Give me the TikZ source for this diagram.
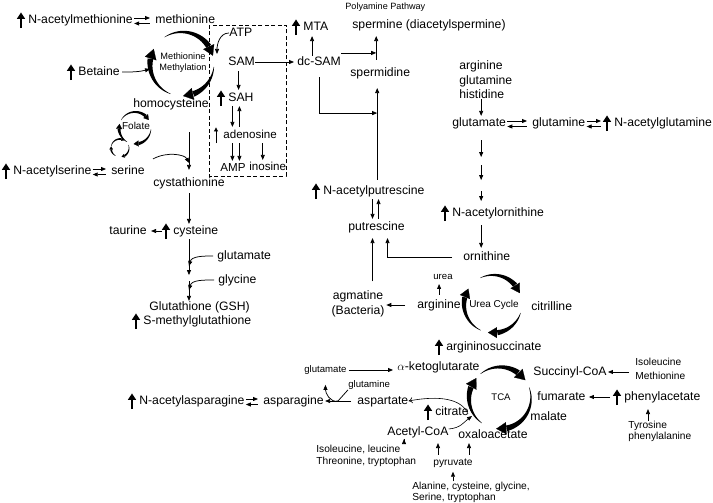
\documentclass[tikz,border=0pt]{standalone}
\usepackage{fontspec}
\setmainfont{Liberation Sans}
\usetikzlibrary{arrows.meta,calc}

\newcommand{\cycarrow}[6][9]{%
  \pgfmathsetmacro{\cycend}{#6+60*#1/#4}%
  \pgfmathsetmacro{\cychw}{0.27*#1}%
  \pgfmathsetmacro{\cycw}{1.2*#1}%
  \fill plot[domain=0:1,samples=25]
    ({#2+(#4+0.15+\cychw*\x)*cos(#5+\x*(\cycend-(#5)))},{#3+(#4+0.15+\cychw*\x)*sin(#5+\x*(\cycend-(#5)))})
    -- plot[domain=0:1,samples=25]
    ({#2+(#4-0.15-\cychw*(1-\x))*cos(\cycend+\x*((#5)-\cycend))},{#3+(#4-0.15-\cychw*(1-\x))*sin(\cycend+\x*((#5)-\cycend))})
    -- cycle;
  \draw[line width=0.2pt,-{Triangle[length=#1pt,width=\cycw pt]}]
    ($(#2,#3)+(\cycend+1:#4)$) -- ($(#2,#3)+(#6:#4)$);}

\begin{document}
\begin{tikzpicture}[x=1pt,y=1pt,line width=0.75pt,
    >={Triangle[length=5pt,width=4pt]},
    every node/.style={inner sep=0pt,anchor=west},
    met/.style={text height=8.8pt,text depth=2.6pt,font=\fontsize{12.2}{14.5}\selectfont},
    sm/.style={font=\fontsize{9.6}{11.5}\selectfont},
    lst/.style={align=left},
    upreg/.style={line width=2.3pt,-{Triangle[length=6.5pt,width=8pt]}},
    eq/.style={shorten <=1pt,shorten >=5pt}]
  \useasboundingbox (0,0) rectangle (713,503);
  % methionine cycle
  \node[met] (nacmet) at (28,483) {N-acetylmethionine};
  \node[met] (met) at (155,483) {methionine};
  \node[met] (atp) at (229,470) {ATP};
  \node[met] (sam) at (228,441) {SAM};
  \node[met] (sah) at (228,405) {SAH};
  \node[met,font=\fontsize{11.6}{14}\selectfont] (ado) at (223,368) {adenosine};
  \node[met,font=\fontsize{11.6}{14}\selectfont] (amp) at (220,335) {AMP};
  \node[met,font=\fontsize{11.6}{14}\selectfont] (ino) at (249,336) {inosine};
  \node[met] (bet) at (78,431) {Betaine};
  \node[met] (hcy) at (133,399) {homocysteine};
  \node[met] (nacser) at (13,332) {N-acetylserine};
  \node[met] (ser) at (111,332) {serine};
  \node[met] (cysta) at (153,320) {cystathionine};
  \node[met] (tau) at (109,272) {taurine};
  \node[met] (cys) at (173,272) {cysteine};
  \node[met] (glua) at (217,247) {glutamate};
  \node[met] (gly) at (218,223) {glycine};
  \node[met] (gsh) at (149,196) {Glutathione (GSH)};
  \node[met] (smg) at (143,182) {S-methylglutathione};
  \node[anchor=center,align=center,font=\fontsize{9.2}{11}\selectfont] (metlbl) at (183,440.5) {Methionine\\Methylation};
  \node[anchor=center,font=\fontsize{10}{12}\selectfont] (fol) at (136,377) {Folate};
  % polyamines
  \node[met] (mta) at (303,476) {MTA};
  \node[met] (dcsam) at (297,441) {dc-SAM};
  \node[font=\fontsize{9.1}{11}\selectfont] (poly) at (345,496) {Polyamine Pathway};
  \node[met] (spm) at (352,478) {spermine (diacetylspermine)};
  \node[met] (spd) at (350,430) {spermidine};
  \node[met] (nacput) at (323,312) {N-acetylputrescine};
  \node[met] (put) at (348,276) {putrescine};
  \node[anchor=center,align=center,font=\fontsize{12.2}{15}\selectfont] (agm) at (358,199) {agmatine\\(Bacteria)};
  \node[met] (arg) at (417,198) {arginine};
  \node[sm,anchor=center] (urea) at (443,226) {urea};
  \node[met] (orn) at (463,246) {ornithine};
  \node[met] (cit) at (531,196) {citrilline};
  \node[met] (asuc) at (446,156) {argininosuccinate};
  \node[anchor=center,font=\fontsize{10}{12}\selectfont] (ucyc) at (494,198) {Urea Cycle};
  \node[lst,font=\fontsize{12.2}{14.5}\selectfont] (aas) at (459,423) {arginine\\glutamine\\histidine};
  \node[met] (glub) at (452,380) {glutamate};
  \node[met] (glnb) at (532,380) {glutamine};
  \node[met] (nacgln) at (614,380) {N-acetylglutamine};
  \node[met] (nacorn) at (452,290) {N-acetylornithine};
  % TCA
  \node[sm] (gluc) at (304,133) {glutamate};
  \node[met] (akg) at (397,136) {$\alpha$-ketoglutarate};
  \node[sm] (glnc) at (348,118) {glutamine};
  \node[met] (asp) at (357,102) {aspartate};
  \node[met] (asn) at (263,102) {asparagine};
  \node[met] (nacasn) at (139,102) {N-acetylasparagine};
  \node[met] (citr) at (435,91) {citrate};
  \node[met] (accoa) at (387,71) {Acetyl-CoA};
  \node[met] (oaa) at (458,68) {oxaloacetate};
  \node[met] (mal) at (530,86) {malate};
  \node[met] (fum) at (537,106) {fumarate};
  \node[met] (succ) at (533,131) {Succinyl-CoA};
  \node[lst,font=\fontsize{10.2}{14}\selectfont] (ilemet) at (635,134) {Isoleucine\\Methionine};
  \node[met] (phac) at (624,106) {phenylacetate};
  \node[lst,font=\fontsize{10.2}{11}\selectfont] (tyr) at (628,71.5) {Tyrosine\\phenylalanine};
  \node[lst,font=\fontsize{10.2}{12}\selectfont] (ileleu) at (316,47) {Isoleucine, leucine\\Threonine, tryptophan};
  \node[anchor=center,font=\fontsize{10.2}{12}\selectfont] (pyr) at (453,40) {pyruvate};
  \node[lst,font=\fontsize{10.2}{11}\selectfont] (alacys) at (412,11) {Alanine, cysteine, glycine,\\Serine, tryptophan};
  \node[anchor=center,font=\fontsize{9.6}{12}\selectfont] (tca) at (501,106) {TCA};

  \foreach \n in {nacmet,sah,bet,nacser,cys,smg,mta,nacput,asuc,nacgln,nacorn,nacasn,citr,phac}
    \draw[upreg] ([xshift=-7pt,yshift=-2pt]\n.south west) -- ([xshift=-7pt,yshift=1.5pt]\n.north west);
  \draw[-{Triangle[length=4pt,width=4pt]},line width=0.8pt] ([xshift=-7pt,yshift=-2pt]ado.south west) -- ([xshift=-7pt,yshift=1.5pt]ado.north west);
  \foreach \a/\b in {nacmet/met,nacser/ser,glub/glnb,nacasn/asn}{
    \draw[->,eq] ([yshift=2pt]\a.east) -- ([yshift=2pt]\b.west);
    \draw[<-,eq] ([yshift=-3.5pt]\a.east) -- ([yshift=-3.5pt]\b.west);}
  \draw[->,eq] ([yshift=2pt]glnb.east) -- ([xshift=-8pt,yshift=2pt]nacgln.west);
  \draw[<-,eq] ([yshift=-3.5pt]glnb.east) -- ([xshift=-8pt,yshift=-3.5pt]nacgln.west);

  \cycarrow[10]{182}{439}{32}{123}{15}
  \cycarrow[10]{182}{439}{32}{-5}{-88}
  \cycarrow[10]{182}{439}{32}{249}{152}
  \cycarrow[5]{135}{375}{16}{150}{30}
  \cycarrow[5]{135}{375}{16}{-5}{-95}
  \cycarrow[5]{135}{375}{16}{240}{165}
  \cycarrow[3]{120}{355}{9}{170}{60}
  \cycarrow[3]{120}{355}{9}{20}{-80}
  \cycarrow[3]{120}{355}{9}{-120}{-190}
  \cycarrow[9]{493}{199}{29}{116}{22}
  \cycarrow[9]{493}{199}{29}{-18}{-100}
  \cycarrow[9]{493}{199}{29}{245}{148}
  \cycarrow[10]{500}{105}{31}{129}{35}
  \cycarrow[10]{500}{105}{31}{20}{-97}
  \cycarrow[10]{500}{105}{31}{234}{140}

  \draw[dash pattern=on 4pt off 2.5pt,line width=0.6pt] (209,478) rectangle (286,327);
  \coordinate (samin) at ([xshift=-11pt,yshift=8pt]sam.west);
  \draw[->] (atp.west) to[out=180,in=90] (samin);
  \draw[->,shorten >=3pt] (sam.east) -- (dcsam.west);
  \draw[->,shorten <=3pt,shorten >=2pt] ([xshift=-3pt]sam.south) -- ([xshift=-3pt]sam.south |- sah.north);
  \draw[->,shorten <=2pt,shorten >=2pt] ([xshift=-8.5pt]sah.south) -- ([xshift=-8.5pt]sah.south |- ado.north);
  \draw[<-,shorten <=2pt,shorten >=2pt] ([xshift=-1.5pt]sah.south) -- ([xshift=-1.5pt]sah.south |- ado.north);
  \draw[->,shorten <=2pt,shorten >=1pt] ([xshift=-8.5pt]sah.south |- ado.south) -- ([xshift=-8.5pt]sah.south |- amp.north);
  \draw[<-,shorten <=1pt,shorten >=2pt] ([xshift=-1.5pt]sah.south |- amp.north) -- ([xshift=-1.5pt]sah.south |- ado.south);
  \draw[->,shorten <=2pt,shorten >=1pt] ([xshift=-5pt]ino.north |- ado.south) -- ([xshift=-5pt]ino.north);
  \coordinate (metin) at (150,434);
  \draw[->,shorten <=2pt] (bet.east) to[out=0,in=195] (metin);
  \draw[->,shorten <=22pt,shorten >=7pt] (cysta.north |- hcy.south) -- (cysta.north);
  \coordinate (serin) at ([yshift=14pt]cysta.north);
  \draw[->] ([shift={(8pt,6pt)}]ser.north east) .. controls +(15,8) and +(-4,8) .. (serin);
  \draw[->,shorten <=4pt,shorten >=1pt] (cysta.south) -- (cysta.south |- cys.north);
  \draw[->,shorten >=4pt] ([xshift=-11pt]cys.west) -- (tau.east);
  \coordinate (gja) at ([yshift=-38pt]cysta.south |- cys.south);
  \coordinate (gjb) at ([yshift=-6pt]gja);
  \draw[->,shorten <=2pt] (cysta.south |- cys.south) -- (gja);
  \draw[->] (gjb) -- (cysta.south |- gsh.north);
  \draw[->] ([xshift=-4pt]glua.west) to[out=180,in=75] ([yshift=9pt]gja);
  \draw[->] ([xshift=-4pt]gly.west) to[out=180,in=75] ([yshift=-9pt]gjb);

  \draw[->,shorten >=3pt] ([xshift=-7pt]dcsam.north) -- ([xshift=-7pt]dcsam.north |- mta.south);
  \coordinate (spmx) at ([xshift=-4pt]spd.north);
  \draw[->,shorten <=7pt,shorten >=5pt] (spmx) -- (spmx |- spm.south);
  \draw[->] ([yshift=3pt]dcsam.north east) -- ([yshift=3pt]dcsam.north east -| spmx);
  \coordinate (nacx) at ([xshift=-3pt]spd.south);
  \draw[->,shorten <=5pt,shorten >=9pt] (nacput.north -| nacx) -- (nacx);
  \draw[->,shorten <=9pt] (dcsam.south) |- ([yshift=-34pt]nacx);
  \draw[->,shorten <=2pt,shorten >=2pt] ([xshift=-4pt]put.north |- nacput.south) -- ([xshift=-4pt]put.north);
  \draw[->,shorten <=2pt,shorten >=2pt] ([xshift=2pt]put.north) -- ([xshift=2pt]put.north |- nacput.south);
  \draw[->,shorten >=5pt] ([xshift=-4pt,yshift=9pt]put.south |- agm.north) -- ([xshift=-4pt]put.south);
  \draw[->,shorten <=11pt,shorten >=5pt] (orn.west) -| ([xshift=11pt]put.south);
  \draw[->,shorten <=12pt,shorten >=1.5pt] (arg.west) -- (arg.west -| agm.east);
  \draw[->,shorten <=4pt,shorten >=4pt] (arg.north) -- (arg.north |- urea.south);

  \coordinate (gx) at ([xshift=2pt]glub.south);
  \draw[->,shorten >=1pt] (aas.south -| gx) -- (gx |- glub.north);
  \foreach \s/\e in {11/28,36/51,62/72}
    \draw[->] ([yshift=-\s pt]gx) -- ([yshift=-\e pt]gx);
  \draw[->,shorten <=6pt,shorten >=3pt] (gx |- nacorn.south) -- (gx |- orn.north);

  \draw[->,shorten <=2pt,shorten >=4pt] (gluc.east) -- (gluc.east -| akg.west);
  \coordinate (asnj) at ([xshift=-19pt]asp.west);
  \draw[->,shorten <=6pt,shorten >=1pt] (asp.west) -- (asn.east);
  \draw (glnc.south west) -- (asnj);
  \draw[->] (asnj) .. controls +(-8,-2) and +(0,-8) .. ([yshift=-10pt]gluc.south);
  \coordinate (tcaa) at (468,89);
  \draw[-{To[length=4pt,width=6pt]},line width=0.6pt] (tcaa) .. controls (462,104) and (440,108) .. (asp.east);
  \coordinate (tcain) at (472,87);
  \draw[->,line width=0.6pt] ([yshift=3pt]accoa.east) .. controls +(12,1) and +(-8,-6) .. (tcain);
  \draw[->,shorten <=3.5pt,shorten >=5pt] ([xshift=-15pt]pyr.north) -- ([xshift=-15pt]pyr.north |- accoa.south);
  \draw[->,shorten <=3.5pt,shorten >=5pt] ([xshift=16pt]pyr.north) -- ([xshift=16pt]pyr.north |- accoa.south);
  \coordinate (arrx) at ([xshift=17pt]accoa.south west);
  \draw[->,shorten <=6pt,shorten >=1pt] (arrx |- ileleu.north) -- (arrx);
  \draw[->,shorten >=4pt] (alacys.north -| pyr.south) -- (pyr.south);
  \draw[->,shorten <=6pt,shorten >=1pt] (ilemet.west |- succ.east) -- (succ.east);
  \draw[->,shorten >=3pt] ([xshift=-14pt]phac.west) -- (fum.east);
  \draw[->,shorten >=6pt] ([xshift=20pt]tyr.north west) -- ([xshift=20pt]tyr.north west |- phac.south);
\end{tikzpicture}
\end{document}
